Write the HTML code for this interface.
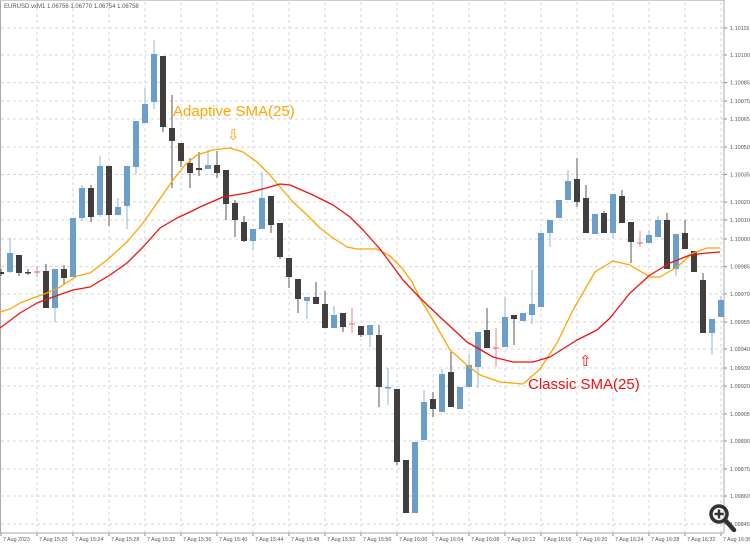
<!DOCTYPE html>
<html><head><meta charset="utf-8"><style>
html,body{margin:0;padding:0;background:#fff;width:750px;height:544px;overflow:hidden}
svg{display:block}
text{font-family:"Liberation Sans",sans-serif}
</style></head><body>
<svg id="s" width="750" height="544" xmlns="http://www.w3.org/2000/svg"></svg>
<script>
const s=document.getElementById('s');let h='';
// grid
const labs=[["1.10115",28],["1.10100",55],["1.10085",82.6],["1.10075",101],["1.10065",119],["1.10050",147],["1.10035",174.5],["1.10020",202],["1.10010",220],["1.10000",239],["1.09985",266.6],["1.09970",294],["1.09955",322],["1.09940",349],["1.09930",368],["1.09920",386],["1.09905",414],["1.09890",441],["1.09875",469],["1.09860",496],["1.09845",524]];
for(const [t,y] of labs){h+=`<line x1="1" x2="724" y1="${y}" y2="${y}" stroke="#d4d4d4" stroke-dasharray="3,3" stroke-width="1"/>`;
h+=`<line x1="724" x2="727" y1="${y}" y2="${y}" stroke="#888"/><text x="730" y="${y+2}" font-size="5.5" fill="#555">${t}</text>`;}
const xl=["7 Aug 2023"];for(let m=20;m<=96;m+=4){const hh=15+Math.floor(m/60),mm=m%60;xl.push(`7 Aug ${hh}:${String(mm).padStart(2,'0')}`);}
xl.forEach((t,i)=>{const x=i==0?1:37+(i-1)*36;if(i>0)h+=`<line x1="${x}" x2="${x}" y1="2" y2="533" stroke="#d4d4d4" stroke-dasharray="3,3"/>`;
h+=`<line x1="${x}" x2="${x}" y1="533" y2="536" stroke="#888"/><text x="${x+2}" y="541" font-size="5.3" fill="#555">${t}</text>`;});
h+=`<line x1="0.5" x2="0.5" y1="0" y2="533" stroke="#aaa"/><line x1="0" x2="724" y1="0.5" y2="0.5" stroke="#ccc"/><line x1="724" x2="724" y1="0" y2="533" stroke="#aaa"/><line x1="0" x2="724" y1="533" y2="533" stroke="#aaa"/>`;
h+=`<text x="4" y="8" font-size="6" fill="#555">EURUSD.vxM1  1.06756 1.06770 1.06754 1.06758</text>`;
// candles [x,top,bottom,hi,lo,type]
const C=[[1,272,274,269,276,'d'],[10,253,272,238,273,'u'],[19,255,273,255,276,'d'],[28,272,273,269,275,'d'],[37,272,272,266,277,'x'],
[46,271,308,264,308,'d'],[55,269,308,269,322,'u'],[64,269,278,265,285,'d'],[73,218,277,218,277,'u'],[82,188,218,185,221,'u'],[91,188,217,185,222,'d'],
[100,166,215,156,217,'u'],[109,166,215,166,226,'d'],[118,207,215,198,215,'u'],[127,166,206,166,229,'u'],[136,121,167,121,174,'u'],[145,104,123,88,123,'u'],
[154,54,102,40,109,'u'],[163,56,127,56,132,'d'],[172,128,141,95,188,'d'],[181,143,161,143,167,'d'],[190,163,173,158,188,'d'],[199,168,170,152,176,'d'],
[208,165,169,150,169,'u'],[217,165,173,151,178,'d'],[226,170,204,170,220,'d'],[235,203,220,200,237,'d'],[244,222,241,216,242,'d'],[253,229,241,229,250,'u'],
[262,198,229,172,229,'u'],[271,196,225,196,233,'d'],[280,223,257,223,259,'d'],[289,258,277,258,288,'d'],[298,279,299,279,313,'d'],[307,297,301,297,319,'u'],
[316,297,304,282,304,'d'],[325,304,328,291,328,'d'],[334,315,328,306,328,'u'],[343,313,327,313,332,'d'],[352,324,324,308,333,'x'],[361,326,335,326,337,'d'],
[370,325,335,325,347,'u'],[379,335,387,325,407,'d'],[388,387,388,368,405,'u'],[397,389,462,389,465,'d'],[406,460,513,460,513,'d'],[415,442,513,442,513,'u'],
[424,402,440,390,440,'u'],[433,399,409,392,417,'d'],[442,374,412,369,412,'u'],[451,372,407,352,407,'d'],[460,387,409,387,409,'u'],[469,365,387,354,387,'u'],
[478,332,367,332,388,'u'],[487,330,348,308,348,'d'],[496,348,348,328,367,'x'],[505,317,347,297,347,'u'],[514,315,319,315,345,'d'],[523,313,321,313,321,'u'],
[532,304,315,270,324,'u'],[541,233,307,233,307,'u'],[550,220,233,220,247,'u'],[559,200,218,200,218,'u'],[568,181,200,170,200,'u'],[577,179,202,158,207,'d'],
[586,198,233,185,233,'d'],[595,214,234,214,234,'u'],[604,213,233,211,233,'d'],[613,194,233,194,238,'u'],[622,196,223,190,223,'d'],[631,222,242,222,263,'d'],
[640,243,243,231,247,'x'],[649,235,243,230,243,'u'],[658,220,237,216,237,'u'],[667,220,269,213,269,'d'],[676,234,269,234,276,'u'],[685,233,249,220,249,'d'],
[694,251,272,251,272,'d'],[703,280,333,273,333,'d'],[712,319,333,319,355,'u'],[721,300,317,296,317,'u']];
for(const [x,t,b,hi,lo,ty] of C){
 if(ty=='x'){h+=`<line x1="${x}" x2="${x}" y1="${hi}" y2="${lo}" stroke="#f08080"/><line x1="${x-3}" x2="${x+3}" y1="${t}" y2="${t}" stroke="#f06060"/>`;continue;}
 const col=ty=='u'?'#6b9ec8':'#423e3e',wc=ty=='u'?'#8fb5d8':'#555';
 h+=`<line x1="${x}" x2="${x}" y1="${hi}" y2="${lo}" stroke="${wc}"/><rect x="${x-3}" y="${t}" width="6" height="${Math.max(1.5,b-t)}" fill="${col}"/>`;}
const O=[[0,312],[10,309],[20,303],[33,298],[47,293],[60,287],[77,276],[90,273],[107,260],[127,242],[143,223],[157,203],[173,180],[185,165],[197,155],[213,150],[230,148],[243,152],[257,162],[270,175],[280,187],[293,202],[307,215],[320,228],[333,238],[347,247],[357,249],[377,249],[390,256],[402,268],[412,282],[422,302],[433,320],[450,350],[467,365],[480,375],[500,382],[523,384],[540,369],[557,343],[573,310],[595,272],[613,261],[630,265],[650,277],[660,277],[677,267],[693,253],[707,248],[720,248]];
const R=[[0,328],[20,313],[37,303],[53,297],[73,290],[90,287],[110,275],[127,263],[143,247],[160,228],[177,218],[190,212],[200,207],[223,197],[247,193],[270,187],[280,184],[290,185],[313,195],[333,205],[350,217],[363,230],[380,249],[392,265],[403,280],[420,298],[440,317],[467,342],[493,357],[513,362],[533,362],[550,357],[577,340],[597,330],[610,318],[630,293],[650,275],[670,263],[690,255],[707,253],[720,252]];
const pl=(a,c)=>`<polyline fill="none" stroke="${c}" stroke-width="1.3" stroke-linejoin="round" points="${a.map(p=>p.join(',')).join(' ')}"/>`;
h+=pl(O,'#ffa500')+pl(R,'#ee1111');
h+=`<text x="173" y="116" font-size="15" fill="#ffa500">Adaptive SMA(25)</text><text x="227" y="140" font-size="15" fill="#ffa500">⇩</text>`;
h+=`<text x="528" y="389" font-size="15" fill="#ee1111">Classic SMA(25)</text><text x="579" y="366" font-size="15" fill="#ee1111">⇧</text>`;
h+=`<circle cx="719" cy="514" r="8" fill="none" stroke="#333" stroke-width="3.5"/><line x1="725" y1="520" x2="734" y2="530" stroke="#333" stroke-width="4.5" stroke-linecap="round"/><line x1="714.5" x2="723.5" y1="514" y2="514" stroke="#333" stroke-width="2.5"/><line x1="719" x2="719" y1="509.5" y2="518.5" stroke="#333" stroke-width="2.5"/>`;
s.innerHTML=h;
</script>
</body></html>
